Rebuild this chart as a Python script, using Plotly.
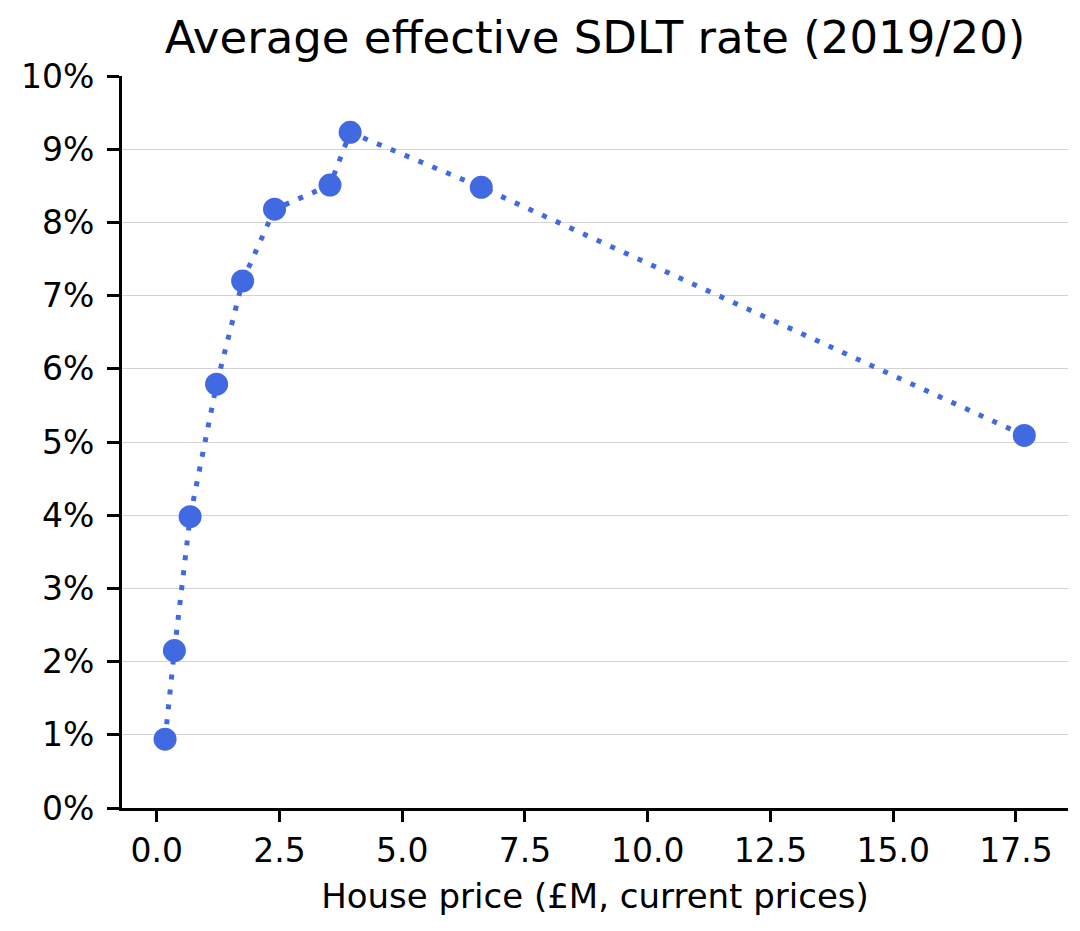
import plotly.graph_objects as go

# Data
house_price_m = [0.17, 0.36, 0.68, 1.22, 1.75, 2.40, 3.53, 3.94, 6.61, 17.67]
effective_rate_pct = [0.94, 2.15, 3.98, 5.79, 7.20, 8.18, 8.51, 9.23, 8.48, 5.09]

x_ticks = [0.0, 2.5, 5.0, 7.5, 10.0, 12.5, 15.0, 17.5]
y_ticks = [0, 1, 2, 3, 4, 5, 6, 7, 8, 9, 10]

title_text = "Average effective SDLT rate (2019/20)"
x_title = "House price (£M, current prices)"

font_family = "DejaVu Sans"
blue = "#4169E1"

fig = go.Figure()
fig.add_trace(go.Scatter(
    x=house_price_m,
    y=effective_rate_pct,
    mode="lines+markers",
    line=dict(color=blue, width=5, dash="5px,10px"),
    marker=dict(color=blue, size=23, line=dict(width=0)),
    showlegend=False,
    hoverinfo="skip",
))

fig.update_layout(
    width=1080,
    height=931,
    paper_bgcolor="white",
    plot_bgcolor="white",
    margin=dict(l=122, r=12, t=76, b=123),
    font=dict(family=font_family, color="black", size=33),
    title=dict(
        text=title_text,
        x=0.5, xref="paper", xanchor="center",
        y=1 - 37 / 931, yref="container", yanchor="middle",
        font=dict(family=font_family, size=45, color="black"),
    ),
)

fig.update_xaxes(
    range=[-0.707, 18.56],
    tickmode="array",
    tickvals=x_ticks,
    ticktext=[f"{v:.1f}" for v in x_ticks],
    showgrid=False,
    zeroline=False,
    showline=True, linecolor="black", linewidth=3,
    ticks="outside", ticklen=11, tickwidth=3, tickcolor="black",
    tickfont=dict(family=font_family, size=33, color="black"),
    title=dict(text=x_title, font=dict(family=font_family, size=34, color="black"), standoff=16),
)

fig.update_yaxes(
    range=[0, 10],
    tickmode="array",
    tickvals=y_ticks,
    ticktext=[f"{v}%" for v in y_ticks],
    showgrid=True, gridcolor="#d3d3d3", gridwidth=1,
    zeroline=False,
    showline=True, linecolor="black", linewidth=3,
    ticks="outside", ticklen=12, tickwidth=3, tickcolor="black",
    ticklabelstandoff=6,
    tickfont=dict(family=font_family, size=33, color="black"),
)

fig.write_html(
    "out.html",
    config={"displayModeBar": False},
    post_script="document.body.style.margin='0px';document.body.style.overflow='hidden';",
)
